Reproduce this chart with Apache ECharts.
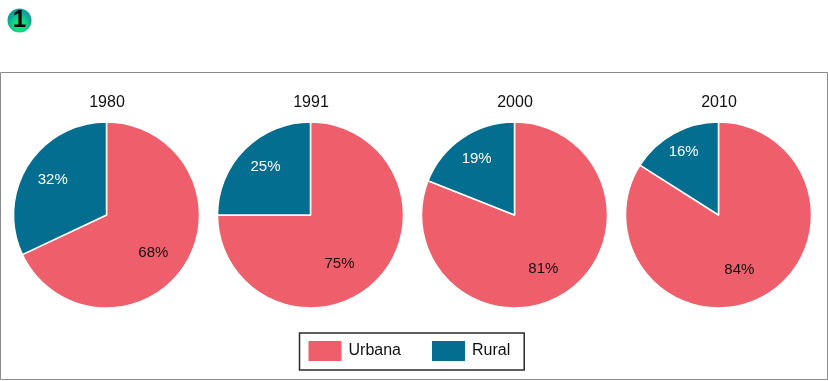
<!DOCTYPE html>
<html><head><meta charset="utf-8">
<style>html,body{margin:0;padding:0;background:#fff}#c{width:828px;height:381px}</style>
<script src="https://cdn.jsdelivr.net/npm/echarts@6/dist/echarts.min.js"></script>
</head><body><div id="c"></div>
<script>
const years = ['1980','1991','2000','2010'];
const categories = ['Urbana','Rural'];
const urbana = [68,75,81,84];
const rural = [32,25,19,16];
const colors = ['#EE5F6B','#036E8F'];
const textColors = ['#111111','#ffffff'];
const font = 'Liberation Sans';
const centersX = [106.5,310.5,514.5,718.5];
const centerY = 215;
const labelShift = [
  [[5,11],[-12,-9]],
  [[-6,14],[-10,-13]],
  [[1,13],[-10,-15]],
  [[-3,11],[-11,-20]]
];
const chart = echarts.init(document.getElementById('c'),null,{renderer:'canvas'});
chart.setOption({
  animation:false,
  backgroundColor:'#fff',
  title: years.map((y,i)=>({
    text:y,left:centersX[i]+0.5,top:95,textAlign:'center',padding:0,
    textStyle:{fontFamily:font,fontSize:16,fontWeight:'normal',color:'#111'}
  })),
  legend:{
    data:categories,left:299.5,top:333,orient:'horizontal',
    icon:'rect',itemWidth:35,itemHeight:22,itemGap:29,padding:[6,14,7,7],
    borderColor:'#2b2b2b',borderWidth:1.5,
    selectedMode:false,
    textStyle:{fontFamily:font,fontSize:16,color:'#111',padding:[0,0,0,1]}
  },
  graphic:[
    {type:'rect',shape:{x:0.5,y:72.5,width:827,height:307},style:{fill:'none',stroke:'#8a8a8a',lineWidth:1},z:-1},
    {type:'circle',shape:{cx:19.5,cy:20.5,r:12},style:{fill:new echarts.graphic.RadialGradient(0.5,0.68,0.55,[{offset:0,color:'#08f070'},{offset:0.45,color:'#10dc80'},{offset:0.85,color:'#10aa98'},{offset:1,color:'#10a09c'}])}},
    {type:'text',style:{x:19.5,y:20,text:'1',align:'center',verticalAlign:'middle',fontFamily:font,fontWeight:'bold',fontSize:24,fill:'#000'}}
  ],
  series: years.map((y,i)=>({
    type:'pie',
    center:[centersX[i],centerY],
    radius:[0,93],
    startAngle:90,
    clockwise:true,
    silent:true,
    color:colors,
    itemStyle:{borderColor:'#fff',borderWidth:1.5},
    labelLine:{show:false},
    data:[
      {name:categories[0],value:urbana[i],label:{color:textColors[0]}},
      {name:categories[1],value:rural[i],label:{color:textColors[1]}}
    ],
    label:{show:true,position:'inside',formatter:'{c}%',fontFamily:font,fontSize:15},
    labelLayout:p=>({dx:labelShift[i][p.dataIndex][0],dy:labelShift[i][p.dataIndex][1]})
  }))
});
</script></body></html>
